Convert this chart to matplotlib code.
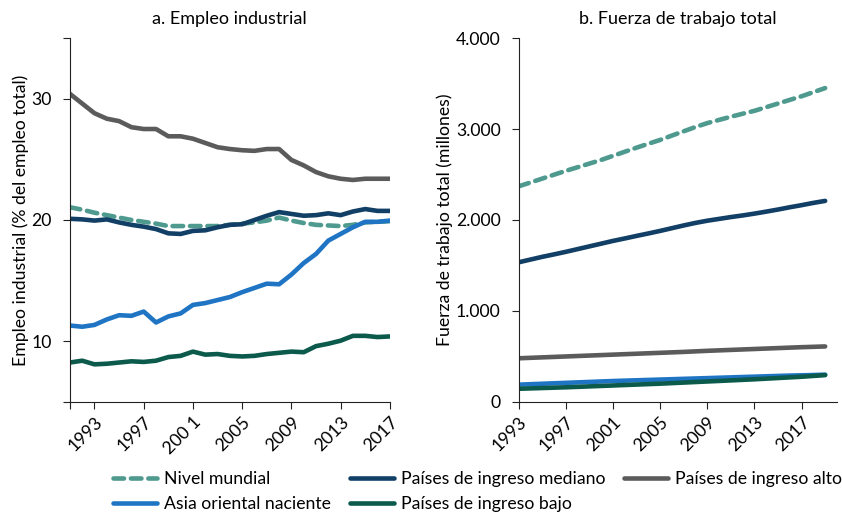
import matplotlib.pyplot as plt
import numpy as np

plt.rcParams['font.family'] = ['Lato', 'DejaVu Sans']

# panel a: industrial employment, % of total employment
years_a = list(range(1991, 2018))
mundial_a = [21.05, 20.85, 20.6, 20.4, 20.2, 20.0, 19.85, 19.7, 19.5, 19.5, 19.5, 19.5, 19.5, 19.6, 19.7, 19.8, 19.95, 20.2, 19.95, 19.75, 19.6, 19.55, 19.5, 19.6, 19.8, 19.85, 19.9]
mediano_a = [20.1, 20.05, 19.95, 20.05, 19.8, 19.6, 19.45, 19.25, 18.9, 18.85, 19.1, 19.15, 19.4, 19.6, 19.65, 20.0, 20.35, 20.65, 20.5, 20.35, 20.4, 20.55, 20.4, 20.7, 20.9, 20.75, 20.75]
alto_a = [30.4, 29.6, 28.8, 28.35, 28.15, 27.65, 27.5, 27.5, 26.9, 26.9, 26.7, 26.35, 26.0, 25.85, 25.75, 25.7, 25.85, 25.85, 24.95, 24.5, 23.95, 23.6, 23.4, 23.3, 23.4, 23.4, 23.4]
asia_a = [11.3, 11.2, 11.35, 11.8, 12.15, 12.1, 12.45, 11.55, 12.05, 12.3, 13.0, 13.15, 13.4, 13.65, 14.05, 14.4, 14.75, 14.7, 15.5, 16.45, 17.2, 18.3, 18.85, 19.4, 19.85, 19.85, 19.95]
bajo_a = [8.25, 8.4, 8.1, 8.15, 8.25, 8.35, 8.3, 8.4, 8.7, 8.8, 9.15, 8.9, 8.95, 8.8, 8.75, 8.8, 8.95, 9.05, 9.15, 9.1, 9.6, 9.8, 10.05, 10.45, 10.45, 10.35, 10.4]

# panel b: total labour force, millions
years_b = list(range(1993, 2020))
mundial_b = [2370, 2412, 2455, 2498, 2540, 2580, 2620, 2660, 2705, 2750, 2795, 2838, 2880, 2928, 2975, 3022, 3065, 3100, 3135, 3168, 3200, 3240, 3280, 3320, 3360, 3405, 3450]
mediano_b = [1535, 1565, 1595, 1622, 1650, 1680, 1710, 1740, 1770, 1797, 1825, 1852, 1880, 1910, 1940, 1968, 1992, 2012, 2032, 2050, 2070, 2092, 2115, 2140, 2163, 2188, 2210]
alto_b = [480, 485, 490, 495, 500, 505, 510, 515, 520, 525, 530, 535, 540, 545, 550, 556, 562, 567, 572, 577, 582, 587, 592, 597, 602, 606, 610]
asia_b = [190, 195, 200, 205, 210, 215, 220, 225, 230, 234, 238, 242, 246, 250, 254, 258, 262, 266, 270, 274, 278, 282, 286, 290, 293, 296, 300]
bajo_b = [145, 149, 153, 157, 161, 166, 171, 176, 181, 186, 191, 196, 201, 207, 213, 219, 225, 231, 237, 243, 249, 256, 263, 270, 277, 286, 295]

names = ['Nivel mundial', 'Países de ingreso mediano', 'Países de ingreso alto',
         'Asia oriental naciente', 'Países de ingreso bajo']
colors = ['#4f9a8f', '#123f66', '#5b5b5b', '#1f75c4', '#0b5a4b']

fs = 12.7

fig = plt.figure(figsize=(8.42, 5.14), dpi=100)
ax1 = fig.add_axes([0.083, 0.218, 0.38, 0.708])
ax2 = fig.add_axes([0.616, 0.218, 0.378, 0.708])

lw = 3.3
dash = (0, (2.3, 1.5))

series_a = [mundial_a, mediano_a, alto_a, asia_a, bajo_a]
series_b = [mundial_b, mediano_b, alto_b, asia_b, bajo_b]
order = [2, 0, 1, 3, 4]
handles = {}
for i in order:
    ls = dash if i == 0 else '-'
    l, = ax1.plot(years_a, series_a[i], color=colors[i], lw=lw, ls=ls,
                  solid_capstyle='round', dash_capstyle='round', label=names[i])
    ax2.plot(years_b, series_b[i], color=colors[i], lw=lw, ls=ls,
             solid_capstyle='round', dash_capstyle='round')
    handles[i] = l

for ax in (ax1, ax2):
    ax.spines['top'].set_visible(False)
    ax.spines['right'].set_visible(False)
    ax.tick_params(direction='out', length=5, labelsize=fs, color='#222222')
    ax.tick_params(axis='y', pad=8)
    for s in ('left', 'bottom'):
        ax.spines[s].set_color('#222222')

ax1.set_xlim(1991, 2017)
ax1.set_ylim(5, 35)
ax1.set_yticks([5, 10, 20, 30, 35])
ax1.set_yticklabels(['', '10', '20', '30', ''])
ax1.set_xticks([1991, 1993, 1997, 2001, 2005, 2009, 2013, 2017])
ax1.set_xticklabels(['', '1993', '1997', '200 1', '2005', '2009', '2013', '2017'],
                    rotation=45, ha='right', rotation_mode='anchor')
ax1.set_ylabel('Empleo industrial (% del empleo total)', fontsize=fs, labelpad=2)
ax1.set_title('a. Empleo industrial', fontsize=fs + 0.3, pad=10)

ax2.set_xlim(1993, 2020)
ax2.set_ylim(0, 4000)
ax2.set_yticks([0, 1000, 2000, 3000, 4000])
ax2.set_yticklabels(['0', '1.000', '2.000', '3.000', '4.000'])
ax2.set_xticks([1993, 1997, 2001, 2005, 2009, 2013, 2017])
ax2.set_xticklabels(['1993', '1997', '2001', '2005', '2009', '2013', '2017'],
                    rotation=45, ha='right', rotation_mode='anchor')
ax2.set_ylabel('Fuerza de trabajo total (millones)', fontsize=fs, labelpad=2)
ax2.set_title('b. Fuerza de trabajo total', fontsize=fs + 0.3, pad=10)

leg_order = [0, 3, 1, 4, 2]
fig.legend([handles[i] for i in leg_order], [names[i] for i in leg_order],
           ncol=3, loc='lower center', bbox_to_anchor=(0.567, -0.027),
           frameon=False, fontsize=fs, handlelength=2.5, handletextpad=0.4,
           columnspacing=1.05, labelspacing=0.5)

fig.savefig('out.png', dpi=100)
